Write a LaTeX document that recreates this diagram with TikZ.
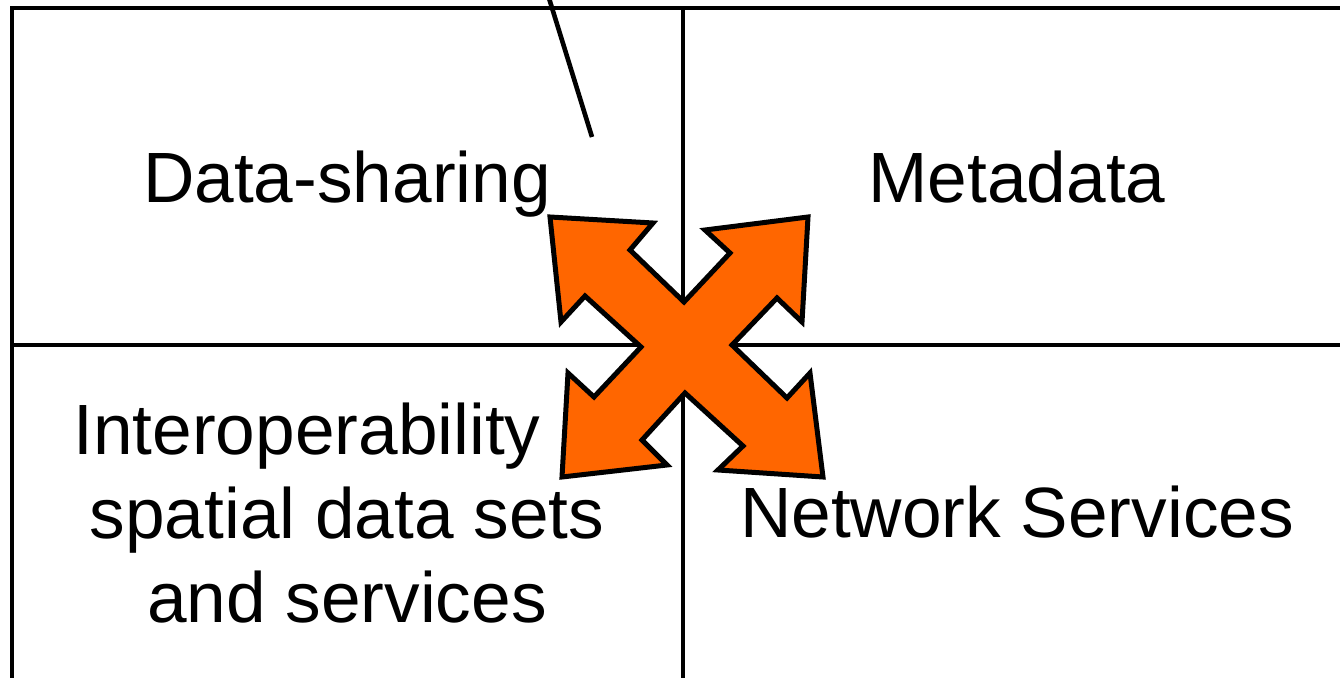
\documentclass[tikz,border=0pt]{standalone}
\usepackage{fontspec}
\setmainfont{Liberation Sans}
\usepackage{tikz}

\tikzset{
  grid line/.style={line width=2.3pt, line cap=rect},
  quad text/.style={font=\fontsize{35.6}{42}\selectfont, anchor=base, inner sep=0pt, align=center},
}

\begin{document}
\begin{tikzpicture}[x=0.5pt,y=-0.5pt]
  \useasboundingbox (0,0) rectangle (1340,678);
  \clip (0,0) rectangle (1340,678);

  % frame and quadrants
  \draw[grid line] (12,690) -- (12,8) -- (1360,8);
  \draw[grid line] (683,8) -- (683,690);
  \draw[grid line] (12,345) -- (1360,345);

  % pointer line from above
  \draw[line width=2.3pt] (548,-5) -- (592,137);

  % quadrant labels
  \node[quad text] (share) at (347,203) {Data-sharing};
  \node[quad text] (meta) at (1017,203) {Metadata};
  \node[quad text] (interop) at (347,623) {Interoperability\kern 40pt\\spatial data sets\\and services};
  \node[quad text] (net) at (1017,538) {Network Services};

  % four-headed arrow
  \filldraw[fill={rgb,255:red,255;green,102;blue,0}, line width=2.5pt, line join=miter]
    (550,217) -- (653,223) -- (630,250) -- (684,302) -- (730,253) -- (705,230)
    -- (808,217) -- (802,322) -- (777,298) -- (732,345) -- (787,398) -- (810,373)
    -- (823,477) -- (718,470) -- (743,446) -- (685,393) -- (642,440) -- (667,465)
    -- (562,477) -- (568,373) -- (594,397) -- (641,347) -- (585,296) -- (561,322)
    -- cycle;
\end{tikzpicture}
\end{document}
